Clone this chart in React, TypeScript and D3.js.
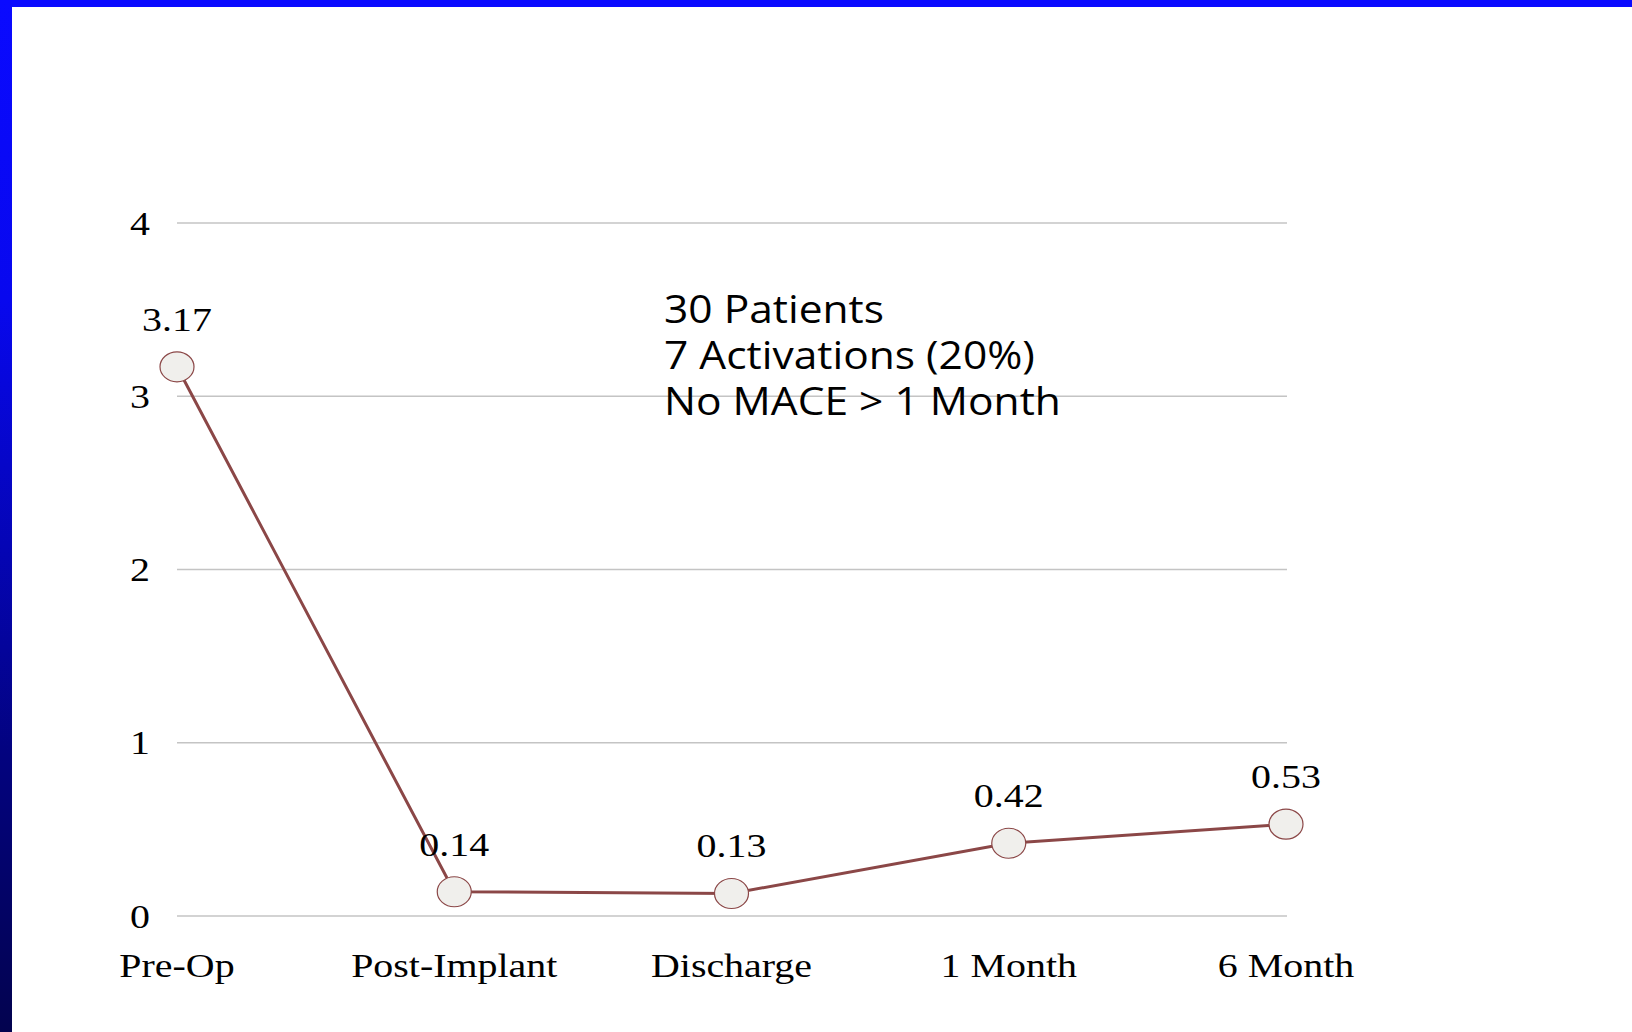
import React from "react";
import * as d3 from "d3";

const categories = ["Pre-Op", "Post-Implant", "Discharge", "1 Month", "6 Month"];
const values = [3.17, 0.14, 0.13, 0.42, 0.53];
const valueLabels = ["3.17", "0.14", "0.13", "0.42", "0.53"];
const yTicks = [0, 1, 2, 3, 4];
const annotationLines = ["30 Patients", "7 Activations (20%)", "No MACE > 1 Month"];

const SX = 1.21;

function SText(props: {
  x: number;
  y: number;
  anchor: "start" | "middle" | "end";
  sx: number;
  family: string;
  size: number;
  dy?: string;
  children: React.ReactNode;
}) {
  return (
    <text
      transform={`translate(${props.x},${props.y}) scale(${props.sx},1)`}
      x={0}
      y={0}
      dy={props.dy}
      textAnchor={props.anchor}
      fontFamily={props.family}
      fontSize={props.size}
      fill="#000"
    >
      {props.children}
    </text>
  );
}

export default function App() {
  const W = 1632;
  const H = 1032;
  const x = d3.scalePoint<string>().domain(categories).range([177, 1286]).padding(0);
  const y = d3.scaleLinear().domain([0, 4]).range([916, 223]);
  const line = d3
    .line<number>()
    .x((_, i) => x(categories[i]) as number)
    .y((d) => y(d));
  const serif = "'Liberation Serif', 'Times New Roman', serif";
  return (
    <svg
      width={W}
      height={H}
      style={{ position: "absolute", left: 0, top: 0, background: "#fff" }}
    >
      <defs>
        <linearGradient id="lb" x1="0" y1="0" x2="0" y2="1">
          <stop offset="0" stopColor="#0a0aff" />
          <stop offset="0.29" stopColor="#0808ee" />
          <stop offset="0.53" stopColor="#0505b5" />
          <stop offset="0.73" stopColor="#03037f" />
          <stop offset="1" stopColor="#03034f" />
        </linearGradient>
      </defs>
      <rect x={0} y={0} width={W} height={H} fill="#fff" />
      <rect x={0} y={0} width={W} height={7} fill="#0a0aff" />
      <rect x={0} y={0} width={12} height={H} fill="url(#lb)" />
      {yTicks.map((t) => (
        <g key={t}>
          <line x1={177} x2={1287} y1={y(t)} y2={y(t)} stroke="#c4c4c4" strokeWidth={1.5} />
          <SText x={150} y={y(t)} dy="0.35em" anchor="end" sx={SX} family={serif} size={33}>
            {t}
          </SText>
        </g>
      ))}
      {categories.map((c) => (
        <SText key={c} x={x(c) as number} y={977} anchor="middle" sx={SX} family={serif} size={33}>
          {c}
        </SText>
      ))}
      <path d={line(values) || ""} fill="none" stroke="#8b4747" strokeWidth={3} />
      {values.map((v, i) => (
        <g key={i}>
          <ellipse
            cx={x(categories[i]) as number}
            cy={y(v)}
            rx={17}
            ry={15}
            fill="#f0efec"
            stroke="#8b4747"
            strokeWidth={1.2}
          />
          <SText
            x={x(categories[i]) as number}
            y={y(v) - 36}
            anchor="middle"
            sx={SX}
            family={serif}
            size={33}
          >
            {valueLabels[i]}
          </SText>
        </g>
      ))}
      {annotationLines.map((l, i) => (
        <SText
          key={i}
          x={664}
          y={323 + i * 46}
          anchor="start"
          sx={1.09}
          family="'Open Sans', sans-serif"
          size={39}
        >
          {l}
        </SText>
      ))}
    </svg>
  );
}
